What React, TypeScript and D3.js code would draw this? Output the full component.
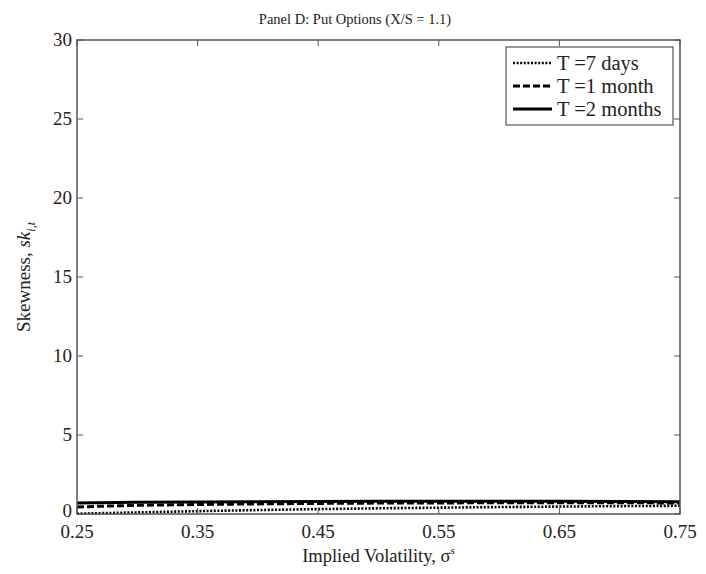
import React from 'react';
import * as d3 from 'd3';

// implied volatility grid
const vols = [0.25, 0.3, 0.35, 0.4, 0.45, 0.5, 0.55, 0.6, 0.65, 0.7, 0.75];

// skewness per maturity
const sevenDays = [0.02, 0.1, 0.18, 0.25, 0.31, 0.36, 0.4, 0.44, 0.47, 0.5, 0.52];
const oneMonth = [0.45, 0.55, 0.6, 0.64, 0.67, 0.69, 0.7, 0.71, 0.71, 0.71, 0.7];
const twoMonths = [0.7, 0.74, 0.76, 0.78, 0.79, 0.8, 0.8, 0.8, 0.8, 0.79, 0.78];

const xTicks = [0.25, 0.35, 0.45, 0.55, 0.65, 0.75];
const yTicks = [0, 5, 10, 15, 20, 25, 30];

const seriesNames = ['T =7 days', 'T =1 month', 'T =2 months'];
const seriesDash = ['2,1.6', '7,3', 'none'];
const seriesWidth = [2.6, 3, 3];

export default function App() {
  const W = 706, H = 574;
  const margin = { left: 77, right: 26, top: 40, bottom: 60 };
  const w = W - margin.left - margin.right;
  const h = H - margin.top - margin.bottom;

  const x = d3.scaleLinear().domain([0.25, 0.75]).range([0, w]);
  const y = d3.scaleLinear().domain([0, 30]).range([h, 0]);

  const line = d3.line<number>()
    .x((d, i) => x(vols[i]))
    .y(d => y(d));

  const series = [sevenDays, oneMonth, twoMonths];
  const font = '"Liberation Serif", "Times New Roman", serif';
  const axisColor = '#555';

  return (
    <svg width={W} height={H} style={{ position: 'absolute', left: 0, top: 0, background: '#fff' }}
      fontFamily={font}>
      <text x={355} y={24} textAnchor="middle" fontSize={14.5} fill="#222">
        Panel D: Put Options (X/S = 1.1)
      </text>
      <g transform={`translate(${margin.left},${margin.top})`}>
        {series.map((s, i) => (
          <path key={i} d={line(s) || ''} fill="none" stroke="#000"
            strokeWidth={seriesWidth[i]} strokeDasharray={seriesDash[i]} />
        ))}
        <rect x={0} y={0} width={w} height={h} fill="none" stroke={axisColor} strokeWidth={1.5} />
        {xTicks.map(t => (
          <g key={'x' + t}>
            <line x1={x(t)} x2={x(t)} y1={h} y2={h - 6} stroke={axisColor} />
            <line x1={x(t)} x2={x(t)} y1={0} y2={6} stroke={axisColor} />
            <text x={x(t)} y={h + 24} textAnchor="middle" fontSize={19} fill="#222">
              {t.toFixed(2)}
            </text>
          </g>
        ))}
        {yTicks.map(t => (
          <g key={'y' + t}>
            <line x1={0} x2={6} y1={y(t)} y2={y(t)} stroke={axisColor} />
            <line x1={w} x2={w - 6} y1={y(t)} y2={y(t)} stroke={axisColor} />
            <text x={-5} y={y(t) + (t === 0 ? 3 : 6)} textAnchor="end" fontSize={19} fill="#222">{t}</text>
          </g>
        ))}
        <text x={w / 2} y={h + 48} textAnchor="middle" fontSize={18.5} fill="#222">
          Implied Volatility, σ<tspan dy={-8} fontSize={11}>s</tspan>
        </text>
        <text transform={`translate(${-47},${h / 2}) rotate(-90)`} textAnchor="middle" fontSize={19} fill="#222">
          Skewness, <tspan fontStyle="italic">sk</tspan>
          <tspan fontStyle="italic" fontSize={12} dy={5}>i,t</tspan>
        </text>
        <g transform={`translate(${w - 174},${7})`}>
          <rect x={0} y={0} width={167} height={78} fill="#fff" stroke={axisColor} strokeWidth={1.2} />
          {seriesNames.map((n, i) => (
            <g key={n} transform={`translate(0,${16 + i * 23})`}>
              <line x1={7} x2={46} y1={0} y2={0} stroke="#000"
                strokeWidth={seriesWidth[i]} strokeDasharray={seriesDash[i]} />
              <text x={51} y={7} fontSize={20.5} fill="#222">{n}</text>
            </g>
          ))}
        </g>
      </g>
    </svg>
  );
}
